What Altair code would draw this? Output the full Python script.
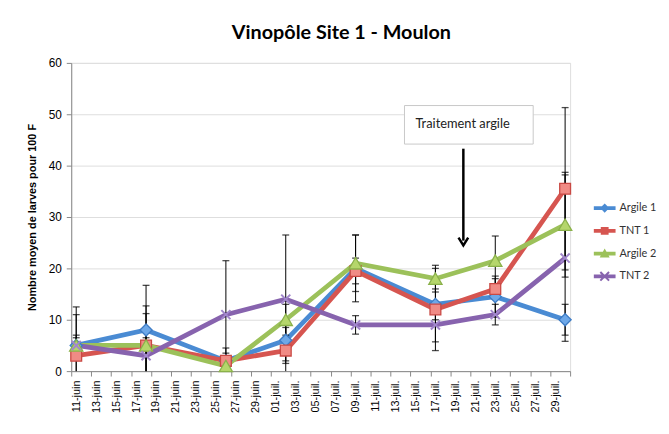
import json
import altair as alt
import pandas as pd

# ---------------- data ----------------
sample_dates = ["2013-06-11", "2013-06-18", "2013-06-26", "2013-07-02",
                "2013-07-09", "2013-07-17", "2013-07-23", "2013-07-30"]
axis_start = "2013-06-11"
series_names = ["Argile 1", "TNT 1", "Argile 2", "TNT 2"]

argile1 = [5, 8, 2, 6, 20, 13, 14.5, 10]
tnt1 = [3, 5, 2, 4, 19.5, 12, 16, 35.5]
argile2 = [5, 5, 1, 10, 21, 18, 21.5, 28.5]
tnt2 = [5, 3, 11, 14, 9, 9, 11, 22]

err_argile1 = [7.5, 8.7, 2.5, 4, 6.5, 3, 4, 3]
err_tnt1 = [8, 7.7, 1.5, 4.5, 2.5, 8, 2, 15.8]
err_argile2 = [2, 6.2, 1, 3, 5.5, 2.6, 4.8, 10.2]
err_tnt2 = [1.5, 3.5, 10.5, 12.5, 1.8, 3.3, 2, 16.2]

tick_labels = ["11-juin", "13-juin", "15-juin", "17-juin", "19-juin", "21-juin",
               "23-juin", "25-juin", "27-juin", "29-juin", "01-juil.", "03-juil.",
               "05-juil.", "07-juil.", "09-juil.", "11-juil.", "13-juil.", "15-juil.",
               "17-juil.", "19-juil.", "21-juil.", "23-juil.", "25-juil.", "27-juil.",
               "29-juil."]
y_ticks = [0, 10, 20, 30, 40, 50, 60]

title_text = "Vinopôle Site 1 - Moulon"
y_title = "Nombre moyen de larves pour 100 F"
anno_text = "Traitement argile"
# annotation box / arrow in data units (day index, larvae)
anno_box_x = [32.9, 45.8]
anno_box_y = [44.2, 51.7]
anno_text_pos = [34.0, 48.0]
arrow_x = 38.8
arrow_y = [43.3, 25.4]

line_colors = ["#4A8BD3", "#D65550", "#9CC15A", "#8763AE"]
fill_colors = ["#6EA8E8", "#F08B85", "#B5D66B", "#A68BCB"]
stroke_colors = ["#3E7CC5", "#C94944", "#8AB14A", "#A287CC"]
marker_shapes = ["diamond", "square", "triangle-up",
                 "M-0.75,-0.75L0.75,0.75M0.75,-0.75L-0.75,0.75"]
marker_sizes = [150, 120, 180, 150]

# ---------------- tables ----------------
start = pd.Timestamp(axis_start)
days = [(pd.Timestamp(d) - start).days for d in sample_dates]
vals = [argile1, tnt1, argile2, tnt2]
errs = [err_argile1, err_tnt1, err_argile2, err_tnt2]
rows = []
for name, v, e in zip(series_names, vals, errs):
    for d, vi, ei in zip(days, v, e):
        rows.append({"day": d, "series": name, "value": vi,
                     "lo": max(vi - ei, 0), "hi": vi + ei, "locap": vi - ei > 0})
df = pd.DataFrame(rows)

width, height = 505, 312
n_days = 50
half_day = width / n_days / 2

FONT = "Lato"
label_array = json.dumps(tick_labels)

x_enc = alt.X("day:Q",
              scale=alt.Scale(domain=[-0.5, n_days - 0.5], nice=False, zero=False),
              axis=alt.Axis(values=[-0.5 + 2 * k for k in range(n_days // 2 + 1)],
                            tickCount=100,
                            labelExpr=f"{label_array}[(datum.value+0.5)/2] || ''",
                            labelAngle=270, labelOffset=half_day,
                            labelOverlap=False, labelBound=False, labelFlush=False,
                            grid=False, tickSize=5, labelPadding=4,
                            labelFontSize=11, title=None))
y_enc = alt.Y("value:Q",
              scale=alt.Scale(domain=[0, 60], nice=False),
              axis=alt.Axis(values=y_ticks, grid=True, tickSize=5, labelPadding=5,
                            labelFontSize=12, title=y_title, titleFontSize=11,
                            titleFontWeight="bold", titleColor="#000000",
                            titlePadding=11))

color_scale = alt.Scale(domain=series_names, range=line_colors)

# legend symbols: line segment + marker as filled paths
t = 0.17
bar = f"M-1,{-t}H1V{t}H-1Z"
leg_paths = [
    bar + "M0,-0.42L0.42,0L0,0.42L-0.42,0Z",
    bar + "M-0.36,-0.36H0.36V0.36H-0.36Z",
    bar + "M0,-0.46L0.46,0.36L-0.46,0.36Z",
    bar + "M-0.336,-0.464L0.464,0.336L0.336,0.464L-0.464,-0.336Z"
          "M-0.464,0.336L0.336,-0.464L0.464,-0.336L-0.336,0.464Z",
]
leg = alt.Legend(orient="none", legendX=529, legendY=136, symbolSize=484,
                 symbolOpacity=1, symbolStrokeWidth=0, labelFont=FONT,
                 labelFontSize=11, labelColor="#333333", rowPadding=7,
                 title=None, labelOffset=4, padding=0)

legend_layer = alt.Chart(df).mark_point(filled=True, opacity=0).encode(
    x=x_enc, y=y_enc,
    color=alt.Color("series:N", scale=color_scale, legend=leg),
    shape=alt.Shape("series:N", scale=alt.Scale(domain=series_names, range=leg_paths),
                    legend=leg),
)

lines = alt.Chart(df).mark_line(strokeWidth=4.8).encode(
    x="day:Q", y="value:Q",
    color=alt.Color("series:N", scale=color_scale, legend=leg),
)

err_rule = alt.Chart(df).mark_rule(color="black", strokeWidth=1).encode(
    x="day:Q", y="lo:Q", y2="hi:Q")
cap_hi = alt.Chart(df).mark_tick(orient="horizontal", size=7, thickness=1.3,
                                 color="black").encode(x="day:Q", y="hi:Q")
cap_lo = alt.Chart(df).transform_filter("datum.locap").mark_tick(
    orient="horizontal", size=7, thickness=1.3, color="black").encode(x="day:Q", y="lo:Q")

marker_layers = []
for name, shp, fc, sc, sz in zip(series_names, marker_shapes, fill_colors,
                                 stroke_colors, marker_sizes):
    is_x = shp.startswith("M")
    marker_layers.append(
        alt.Chart(df).transform_filter(alt.datum.series == name).mark_point(
            shape=shp, size=sz, filled=not is_x, fill=("none" if is_x else fc),
            stroke=sc, strokeWidth=(2 if is_x else 1.3), opacity=1,
        ).encode(x="day:Q", y="value:Q")
    )

anno_df = pd.DataFrame({"x": [anno_box_x[0]], "x2": [anno_box_x[1]],
                        "y": [anno_box_y[0]], "y2": [anno_box_y[1]],
                        "tx": [anno_text_pos[0]], "ty": [anno_text_pos[1]],
                        "text": [anno_text], "ax": [arrow_x],
                        "ay": [arrow_y[0]], "ay2": [arrow_y[1]]})
box = alt.Chart(anno_df).mark_rect(fill="white", stroke="#C8C8C8", strokeWidth=1).encode(
    x="x:Q", x2="x2:Q", y="y:Q", y2="y2:Q")
box_text = alt.Chart(anno_df).mark_text(align="left", baseline="middle", font=FONT,
                                        fontSize=13, color="#222222").encode(
    x="tx:Q", y="ty:Q", text="text:N")
arrow = alt.Chart(anno_df).mark_rule(color="black", strokeWidth=2.5).encode(
    x="ax:Q", y="ay:Q", y2="ay2:Q")
arrow_head = alt.Chart(anno_df).mark_point(
    shape="M-0.8,-0.5L0,0.8L0.8,-0.5", size=150, filled=False, stroke="black",
    strokeWidth=2.5, opacity=1).encode(x="ax:Q", y="ay2:Q")

chart = alt.layer(
    legend_layer, lines, err_rule, cap_hi, cap_lo, *marker_layers,
    box, box_text, arrow, arrow_head,
).properties(
    width=width, height=height,
    title=alt.TitleParams(title_text, font=FONT, fontSize=20, fontWeight="bold",
                          color="#000000", anchor="middle", dx=21, offset=14),
    padding={"left": 64, "top": 53, "right": 92, "bottom": 55},
    autosize=alt.AutoSizeParams(type="none"),
).configure_view(stroke=None).configure_axis(
    labelFont=FONT, titleFont=FONT, labelColor="#333333",
    domainColor="#8C8C8C", tickColor="#8C8C8C", gridColor="#C0C0C0",
).configure(background="white")

chart.save("out.html", embed_options={"renderer": "svg", "actions": False})
